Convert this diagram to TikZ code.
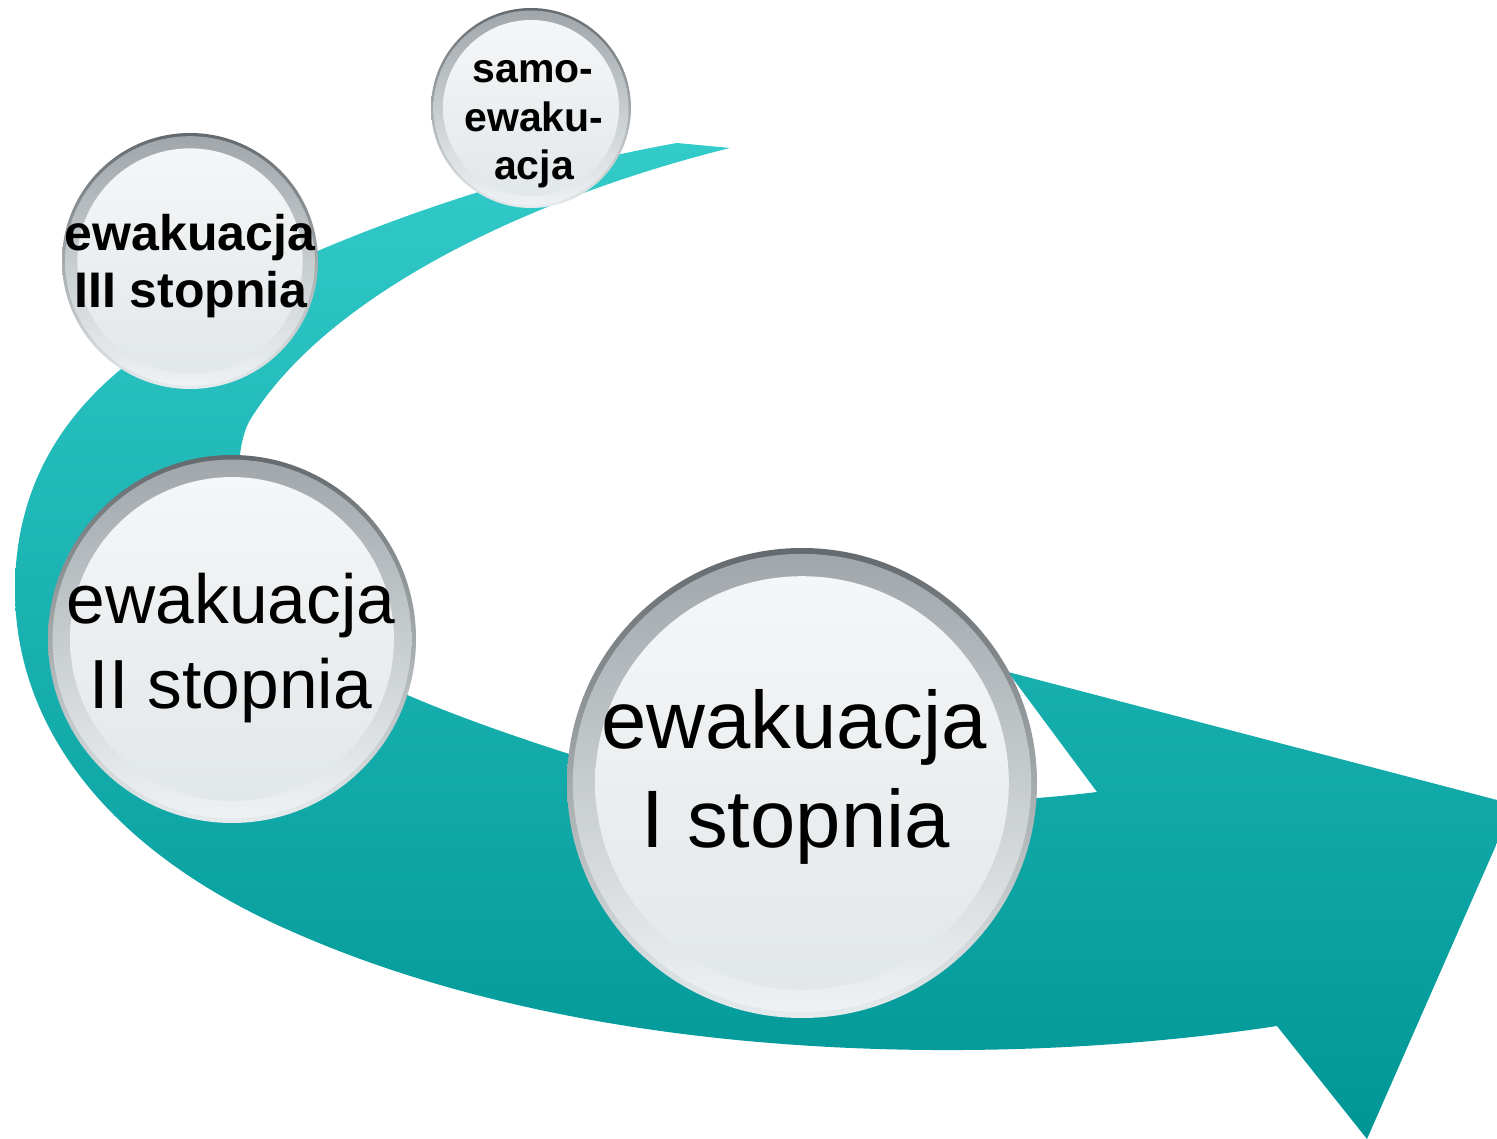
\documentclass[tikz,border=0pt]{standalone}
\usepackage{fontspec}
\setmainfont{Liberation Sans}
\definecolor{bandtop}{RGB}{50,203,202}
\definecolor{bandbot}{RGB}{0,150,150}
\definecolor{rimtop}{RGB}{100,105,109}
\definecolor{rimbot}{RGB}{230,235,237}
\definecolor{ringtop}{RGB}{160,166,170}
\definecolor{ringmid}{RGB}{192,198,201}
\definecolor{ringbot}{RGB}{238,242,244}
\definecolor{disktop}{RGB}{245,246,247}
\definecolor{diskmid}{RGB}{208,215,218}
\definecolor{diskbot}{RGB}{226,231,233}
\tikzset{
  ballrim/.style={circle, inner sep=0pt, draw=none, top color=rimtop, bottom color=rimbot},
  ballring/.style={top color=ringtop, middle color=ringmid, bottom color=ringbot},
  balldisk/.style={top color=disktop, middle color=diskmid, bottom color=diskbot},
  lblI/.style={anchor=base, inner sep=0pt, font=\fontsize{81.5}{98}\selectfont},
  lblII/.style={anchor=base, inner sep=0pt, font=\fontsize{69.5}{84}\selectfont},
  lblIII/.style={anchor=base, inner sep=0pt, font=\bfseries\fontsize{50}{60}\selectfont},
  lblS/.style={anchor=base, inner sep=0pt, font=\bfseries\fontsize{41}{49}\selectfont},
}
\newcommand{\glossyball}[4]{%
  \node[ballrim, minimum size=#4*2pt] (#1) at (#2,#3) {};
  \path[ballring] (#1.center) circle[radius=#4*0.975pt];
  \path[balldisk] (#1.center) circle[radius=#4*0.88pt];
}
\begin{document}
\begin{tikzpicture}[x=1pt,y=-1pt]
\useasboundingbox (0,0) rectangle (1497,1139);
% curved arrow band
\path[top color=bandtop, bottom color=bandbot]
  (677,143) -- (730,148)
  .. controls (540,195) and (330,290) .. (250,420)
  .. controls (228,458) and (235,570) .. (300,640)
  .. controls (380,690) and (480,725) .. (563,752)
  .. controls (750,810) and (950,810) .. (1097,792)
  -- (1008,672) -- (1497,800) -- (1497,843) -- (1367,1139) -- (1277,1026)
  .. controls (1000,1068) and (600,1065) .. (300,935)
  .. controls (100,850) and (15,720) .. (15,590)
  .. controls (15,490) and (60,420) .. (120,370)
  .. controls (200,300) and (260,275) .. (320,250)
  .. controls (450,195) and (580,160) .. (677,143)
  -- cycle;
% balls
\glossyball{bS}{531}{108}{100}
\glossyball{bIII}{190}{261}{128}
\glossyball{bII}{232}{639}{184}
\glossyball{bI}{802}{783}{235}
% labels
\node[lblS] (tS1) at (533,83) {samo-};
\node[lblS] (tS2) at (534,132) {ewaku-};
\node[lblS] (tS3) at (534,180) {acja};
\node[lblIII] (tIII1) at (190,251) {ewakuacja};
\node[lblIII] (tIII2) at (191,308) {III stopnia};
\node[lblII] (tII1) at (231,623) {ewakuacja};
\node[lblII] (tII2) at (231,708) {II stopnia};
\node[lblI] (tI1) at (794,748) {ewakuacja};
\node[lblI] (tI2) at (796,847) {I stopnia};
\end{tikzpicture}
\end{document}
